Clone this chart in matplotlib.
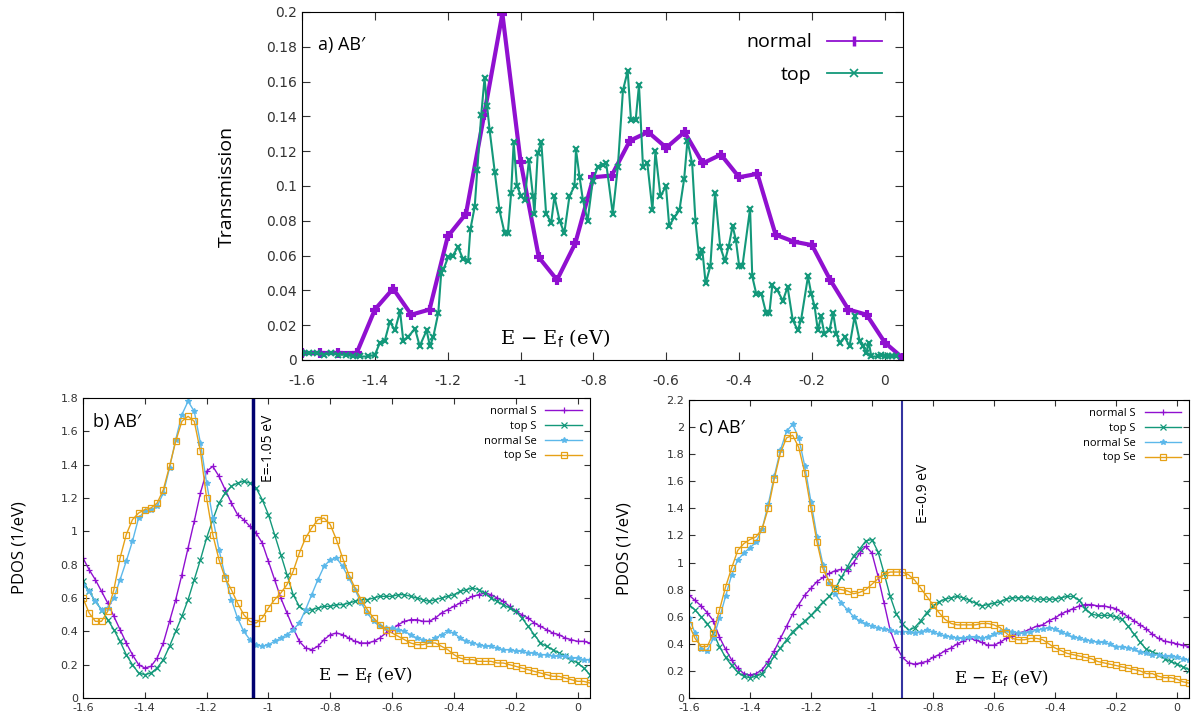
import numpy as np
import matplotlib
matplotlib.use('Agg')
import matplotlib.pyplot as plt
from matplotlib.ticker import FuncFormatter, MultipleLocator
from matplotlib.lines import Line2D

# ---- a) transmission ----
e_normal = [-1.60, -1.55, -1.50, -1.45, -1.40, -1.35, -1.30, -1.25, -1.20, -1.15,
            -1.10, -1.05, -1.00, -0.95, -0.90, -0.85, -0.80, -0.75, -0.70, -0.65,
            -0.60, -0.55, -0.50, -0.45, -0.40, -0.35, -0.30, -0.25, -0.20, -0.15,
            -0.10, -0.05, 0.00, 0.05]
t_normal = [0.004, 0.004, 0.004, 0.004, 0.029, 0.041, 0.026, 0.029, 0.071, 0.084,
            0.141, 0.199, 0.114, 0.059, 0.046, 0.067, 0.105, 0.106, 0.126, 0.131,
            0.122, 0.131, 0.113, 0.118, 0.105, 0.107, 0.072, 0.068, 0.066, 0.046,
            0.029, 0.026, 0.010, 0.001]

e_top = [-1.60, -1.58, -1.56, -1.54, -1.52, -1.50, -1.48, -1.46, -1.44, -1.42,
         -1.40, -1.386, -1.373, -1.359, -1.345, -1.331, -1.322, -1.31, -1.29, -1.277,
         -1.258, -1.249, -1.24, -1.226, -1.218, -1.212, -1.199, -1.186, -1.172, -1.158,
         -1.144, -1.138, -1.126, -1.119, -1.108, -1.099, -1.092, -1.085, -1.071, -1.058,
         -1.044, -1.035, -1.026, -1.019, -1.010, -0.998, -0.989, -0.977, -0.966, -0.962,
         -0.953, -0.943, -0.930, -0.916, -0.907, -0.893, -0.880, -0.866, -0.852, -0.848,
         -0.838, -0.829, -0.816, -0.802, -0.788, -0.775, -0.765, -0.747, -0.733, -0.719,
         -0.706, -0.697, -0.684, -0.675, -0.664, -0.652, -0.638, -0.630, -0.616, -0.601,
         -0.592, -0.578, -0.564, -0.551, -0.542, -0.529, -0.520, -0.510, -0.501, -0.492,
         -0.479, -0.466, -0.452, -0.439, -0.429, -0.418, -0.409, -0.400, -0.391, -0.370,
         -0.364, -0.353, -0.339, -0.326, -0.317, -0.309, -0.295, -0.280, -0.267, -0.253,
         -0.239, -0.230, -0.211, -0.202, -0.193, -0.184, -0.175, -0.166, -0.152, -0.142,
         -0.133, -0.124, -0.110, -0.097, -0.083, -0.069, -0.060, -0.051, -0.044, -0.037,
         -0.020, -0.010, 0.000, 0.010, 0.020, 0.030]
t_top = [0.004, 0.004, 0.004, 0.003, 0.004, 0.003, 0.003, 0.002, 0.002, 0.002,
         0.003, 0.010, 0.011, 0.022, 0.017, 0.028, 0.011, 0.013, 0.018, 0.008,
         0.017, 0.008, 0.013, 0.027, 0.050, 0.052, 0.059, 0.060, 0.065, 0.058,
         0.057, 0.075, 0.088, 0.109, 0.141, 0.162, 0.146, 0.132, 0.108, 0.086,
         0.073, 0.073, 0.096, 0.125, 0.100, 0.094, 0.092, 0.115, 0.094, 0.084,
         0.119, 0.125, 0.084, 0.079, 0.094, 0.080, 0.073, 0.094, 0.100, 0.121,
         0.105, 0.092, 0.080, 0.103, 0.111, 0.112, 0.113, 0.084, 0.111, 0.155,
         0.166, 0.138, 0.138, 0.158, 0.111, 0.113, 0.086, 0.120, 0.094, 0.100,
         0.077, 0.082, 0.086, 0.104, 0.126, 0.113, 0.080, 0.059, 0.063, 0.044,
         0.054, 0.096, 0.065, 0.057, 0.065, 0.077, 0.069, 0.054, 0.054, 0.087,
         0.048, 0.038, 0.038, 0.027, 0.027, 0.043, 0.040, 0.034, 0.042, 0.023,
         0.017, 0.023, 0.048, 0.038, 0.031, 0.017, 0.025, 0.015, 0.017, 0.027,
         0.015, 0.010, 0.013, 0.008, 0.025, 0.011, 0.008, 0.004, 0.010, 0.002,
         0.002, 0.003, 0.002, 0.002, 0.002, 0.002]

# ---- b), c) PDOS, sampled every 0.02 eV ----
energy = np.round(np.arange(-1.60, 0.041, 0.02), 2)

b_normal_S = [0.84, 0.77, 0.71, 0.64, 0.57, 0.49, 0.41, 0.33, 0.26, 0.20,
              0.18, 0.19, 0.24, 0.33, 0.46, 0.59, 0.74, 0.90, 1.06, 1.23,
              1.36, 1.39, 1.33, 1.25, 1.17, 1.10, 1.07, 1.03, 0.99, 0.93,
              0.82, 0.71, 0.60, 0.51, 0.42, 0.34, 0.30, 0.29, 0.31, 0.35,
              0.38, 0.39, 0.38, 0.36, 0.34, 0.33, 0.33, 0.34, 0.36, 0.39,
              0.41, 0.44, 0.46, 0.47, 0.47, 0.46, 0.46, 0.48, 0.51, 0.53,
              0.55, 0.57, 0.59, 0.61, 0.62, 0.63, 0.62, 0.60, 0.58, 0.55,
              0.52, 0.50, 0.48, 0.45, 0.43, 0.41, 0.39, 0.38, 0.36, 0.35,
              0.34, 0.34, 0.33]
b_top_S = [0.70, 0.64, 0.58, 0.53, 0.47, 0.41, 0.34, 0.26, 0.20, 0.15,
           0.14, 0.15, 0.18, 0.23, 0.31, 0.40, 0.49, 0.59, 0.71, 0.83,
           0.96, 1.07, 1.17, 1.23, 1.27, 1.29, 1.30, 1.29, 1.26, 1.19,
           1.10, 0.98, 0.86, 0.74, 0.62, 0.55, 0.52, 0.53, 0.54, 0.55,
           0.55, 0.56, 0.56, 0.57, 0.58, 0.59, 0.59, 0.60, 0.61, 0.61,
           0.61, 0.62, 0.62, 0.61, 0.60, 0.59, 0.58, 0.59, 0.60, 0.61,
           0.62, 0.64, 0.65, 0.66, 0.65, 0.63, 0.60, 0.58, 0.56, 0.54,
           0.52, 0.48, 0.43, 0.38, 0.33, 0.31, 0.29, 0.27, 0.25, 0.23,
           0.21, 0.18, 0.14]
b_normal_Se = [0.68, 0.64, 0.58, 0.53, 0.54, 0.60, 0.71, 0.82, 0.94, 1.08,
               1.12, 1.13, 1.15, 1.23, 1.38, 1.55, 1.70, 1.78, 1.72, 1.53,
               1.29, 1.08, 0.89, 0.73, 0.59, 0.48, 0.40, 0.35, 0.32, 0.31,
               0.32, 0.34, 0.36, 0.38, 0.41, 0.45, 0.53, 0.62, 0.71, 0.79,
               0.83, 0.84, 0.79, 0.72, 0.65, 0.57, 0.51, 0.46, 0.43, 0.42,
               0.42, 0.41, 0.40, 0.38, 0.36, 0.35, 0.34, 0.36, 0.38, 0.40,
               0.39, 0.36, 0.34, 0.33, 0.32, 0.31, 0.31, 0.30, 0.29, 0.29,
               0.28, 0.28, 0.27, 0.27, 0.26, 0.26, 0.25, 0.25, 0.25, 0.24,
               0.24, 0.23, 0.23]
b_top_Se = [0.60, 0.51, 0.46, 0.46, 0.52, 0.65, 0.84, 0.98, 1.07, 1.11,
            1.13, 1.14, 1.17, 1.25, 1.39, 1.54, 1.66, 1.69, 1.66, 1.48,
            1.20, 0.98, 0.83, 0.72, 0.65, 0.57, 0.50, 0.46, 0.45, 0.48,
            0.54, 0.59, 0.63, 0.68, 0.76, 0.87, 0.96, 1.02, 1.07, 1.08,
            1.04, 0.95, 0.84, 0.74, 0.66, 0.59, 0.53, 0.48, 0.44, 0.41,
            0.39, 0.37, 0.35, 0.33, 0.32, 0.32, 0.33, 0.33, 0.31, 0.29,
            0.26, 0.24, 0.23, 0.23, 0.22, 0.22, 0.22, 0.21, 0.21, 0.20,
            0.19, 0.18, 0.17, 0.16, 0.15, 0.14, 0.13, 0.13, 0.12, 0.11,
            0.10, 0.10, 0.09]

c_normal_S = [0.76, 0.72, 0.68, 0.63, 0.57, 0.45, 0.36, 0.28, 0.22, 0.18,
              0.17, 0.18, 0.21, 0.27, 0.35, 0.44, 0.53, 0.62, 0.69, 0.76,
              0.81, 0.86, 0.89, 0.92, 0.94, 0.95, 0.94, 1.00, 1.07, 1.12,
              1.07, 0.90, 0.70, 0.50, 0.38, 0.30, 0.26, 0.25, 0.26, 0.27,
              0.30, 0.32, 0.35, 0.37, 0.40, 0.42, 0.44, 0.43, 0.41, 0.39,
              0.39, 0.41, 0.44, 0.46, 0.48, 0.49, 0.51, 0.53, 0.54, 0.57,
              0.59, 0.62, 0.64, 0.66, 0.68, 0.69, 0.69, 0.68, 0.68, 0.67,
              0.66, 0.63, 0.60, 0.57, 0.54, 0.51, 0.47, 0.44, 0.42, 0.41,
              0.40, 0.39, 0.38]
c_top_S = [0.69, 0.65, 0.60, 0.55, 0.48, 0.38, 0.30, 0.24, 0.19, 0.16,
           0.15, 0.16, 0.18, 0.24, 0.31, 0.37, 0.43, 0.49, 0.53, 0.57,
           0.61, 0.66, 0.71, 0.75, 0.81, 0.89, 0.97, 1.05, 1.10, 1.16,
           1.17, 1.08, 0.92, 0.75, 0.62, 0.55, 0.50, 0.52, 0.57, 0.63,
           0.68, 0.71, 0.73, 0.74, 0.75, 0.74, 0.72, 0.70, 0.68, 0.69,
           0.70, 0.71, 0.73, 0.74, 0.74, 0.74, 0.74, 0.73, 0.73, 0.73,
           0.73, 0.74, 0.75, 0.75, 0.72, 0.66, 0.62, 0.61, 0.61, 0.61,
           0.60, 0.58, 0.53, 0.47, 0.41, 0.36, 0.34, 0.32, 0.29, 0.27,
           0.25, 0.23, 0.21]
c_normal_Se = [0.59, 0.48, 0.36, 0.35, 0.44, 0.59, 0.75, 0.91, 1.02, 1.07,
               1.11, 1.15, 1.25, 1.43, 1.64, 1.83, 1.97, 2.02, 1.92, 1.71,
               1.45, 1.19, 0.98, 0.85, 0.77, 0.70, 0.65, 0.60, 0.57, 0.55,
               0.53, 0.52, 0.51, 0.50, 0.49, 0.49, 0.49, 0.48, 0.49, 0.50,
               0.49, 0.47, 0.46, 0.45, 0.44, 0.44, 0.45, 0.45, 0.44, 0.45,
               0.47, 0.49, 0.50, 0.49, 0.48, 0.48, 0.49, 0.50, 0.51, 0.52,
               0.51, 0.49, 0.47, 0.45, 0.44, 0.43, 0.42, 0.41, 0.41, 0.40,
               0.38, 0.38, 0.37, 0.36, 0.34, 0.33, 0.32, 0.32, 0.31, 0.31,
               0.30, 0.29, 0.28]
c_top_Se = [0.54, 0.44, 0.38, 0.38, 0.48, 0.65, 0.82, 0.96, 1.09, 1.14,
            1.17, 1.19, 1.25, 1.40, 1.62, 1.81, 1.92, 1.94, 1.85, 1.66,
            1.40, 1.15, 0.95, 0.86, 0.81, 0.80, 0.79, 0.77, 0.78, 0.80,
            0.84, 0.88, 0.91, 0.93, 0.93, 0.93, 0.91, 0.87, 0.81, 0.75,
            0.69, 0.63, 0.58, 0.55, 0.54, 0.54, 0.54, 0.54, 0.55, 0.55,
            0.54, 0.52, 0.48, 0.44, 0.43, 0.43, 0.44, 0.44, 0.43, 0.40,
            0.37, 0.35, 0.33, 0.32, 0.31, 0.30, 0.29, 0.27, 0.26, 0.25,
            0.24, 0.23, 0.22, 0.21, 0.20, 0.18, 0.18, 0.16, 0.15, 0.15,
            0.14, 0.12, 0.11]

pdos_labels = ["normal S", "top S", "normal Se", "top Se"]
xticks = [-1.6, -1.4, -1.2, -1.0, -0.8, -0.6, -0.4, -0.2, 0.0]

purple = '#9010d0'
green = '#13987a'
blue = '#5cb8ea'
orange = '#e6a117'

fmt = FuncFormatter(lambda v, p: '%g' % round(v, 3))
sans = 'Open Sans'
serif = 'DejaVu Serif'
xlab = r'E $-$ E$_\mathrm{f}$ (eV)'

fig = plt.figure(figsize=(11.92, 7.24), dpi=100)

# ---- a) ----
ax = fig.add_axes([0.2534, 0.5028, 0.5042, 0.4807])
ax.plot(e_normal, t_normal, color=purple, lw=3, marker='+', ms=7, mew=3)
ax.plot(e_top, t_top, color=green, lw=1.5, marker='x', ms=5, mew=1.5)
ax.set_xlim(-1.6, 0.05)
ax.set_ylim(0, 0.2)
ax.set_xticks(xticks)
ax.yaxis.set_major_locator(MultipleLocator(0.02))
ax.xaxis.set_major_formatter(fmt)
ax.yaxis.set_major_formatter(fmt)
ax.tick_params(direction='in', top=True, right=True, length=6, labelsize=10, colors='#333333')
ax.tick_params(axis='x', pad=10)
ax.set_ylabel('Transmission', fontsize=14, family=sans, labelpad=22)
ax.text(-1.556, 0.181, "a) AB′", fontsize=13, family=sans, va='center')
ax.text(-0.905, 0.012, xlab, fontsize=14, family=serif, ha='center', va='center')
handles = [Line2D([], [], color=purple, lw=1.3, marker='|', ms=7, mew=2.5),
           Line2D([], [], color=green, lw=1.3, marker='x', ms=6, mew=1.2)]
ax.legend(handles, ['normal', 'top'], loc='upper right', frameon=False, markerfirst=False,
          handlelength=2.8, labelspacing=0.75, borderaxespad=0.7,
          prop={'family': sans, 'size': 14})


def pdos_panel(rect, curves, ymax, tag, tag_y, vx, vtext, vtext_xy, vcolor, vlw, xlab_xy):
    ax = fig.add_axes(rect)
    styles = [(purple, '+', 'full'), (green, 'x', 'full'),
              (blue, '*', 'full'), (orange, 's', 'none')]
    for y, lab, (c, m, fs) in zip(curves, pdos_labels, styles):
        ax.plot(energy, y, color=c, lw=1, marker=m, ms=4, mew=0.9,
                fillstyle=fs, label=lab)
    ax.axvline(vx, color=vcolor, lw=vlw)
    ax.set_xlim(-1.6, 0.04)
    ax.set_ylim(0, ymax)
    ax.set_xticks(xticks)
    ax.yaxis.set_major_locator(MultipleLocator(0.2))
    ax.xaxis.set_major_formatter(fmt)
    ax.yaxis.set_major_formatter(fmt)
    ax.tick_params(direction='in', top=True, right=True, length=4, labelsize=8, colors='#333333')
    ax.set_ylabel('PDOS (1/eV)', fontsize=12, family=sans, labelpad=24)
    ax.text(0.02, tag_y, tag, transform=ax.transAxes, fontsize=13, family=sans, va='center')
    ax.text(vtext_xy[0], vtext_xy[1], vtext, rotation=90, fontsize=10, family=sans,
            ha='center', va='center')
    ax.text(xlab_xy[0], xlab_xy[1], xlab, fontsize=12, family=serif, ha='center', va='center')
    ax.legend(loc='upper right', frameon=False, markerfirst=False, handlelength=3.3,
              labelspacing=0.35, borderaxespad=0.3, prop={'family': sans, 'size': 8})
    return ax


pdos_panel([0.0696, 0.0359, 0.4253, 0.4144],
           [b_normal_S, b_top_S, b_normal_Se, b_top_Se], 1.8, "b) AB′", 0.92,
           -1.05, "E=-1.05 eV", (-1.0, 1.5), '#000070', 2.5, (-0.688, 0.14))
pdos_panel([0.578, 0.0359, 0.4195, 0.4116],
           [c_normal_S, c_top_S, c_normal_Se, c_top_Se], 2.2, "c) AB′", 0.905,
           -0.9, "E=-0.9 eV", (-0.83, 1.51), '#3434a0', 1.5, (-0.577, 0.15))

fig.savefig('out.png', dpi=100)
